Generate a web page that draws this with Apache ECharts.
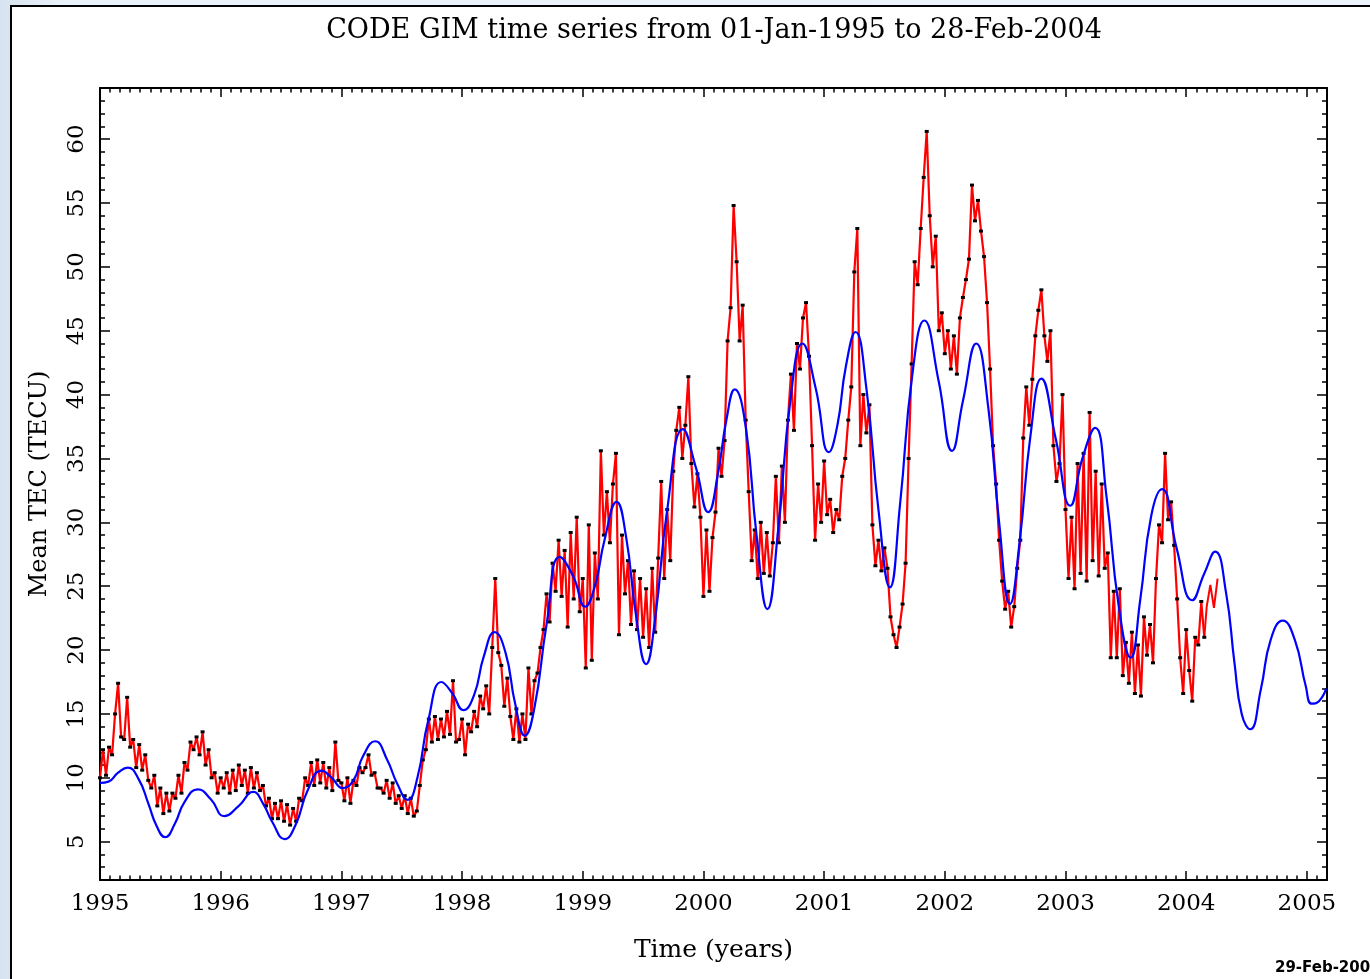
<!DOCTYPE html>
<html><head><meta charset="utf-8">
<script src="https://cdn.jsdelivr.net/npm/echarts@6/dist/echarts.min.js"></script>
<style>
html,body{margin:0;padding:0;width:1370px;height:979px;overflow:hidden;background:linear-gradient(to right,#d6e3f0,#e9f1f9 60px,#edf3fa);}
#frame{position:absolute;left:10px;top:5px;width:1400px;height:1000px;background:#fff;border-left:2.5px solid #000;border-top:2.5px solid #000;}
#chart{position:absolute;left:0;top:0;width:1370px;height:979px;}
</style></head><body><div id="frame"></div><div id="chart"></div>
<script>
// ---- data (decimal years / TECU) ----
const title = 'CODE GIM time series from 01-Jan-1995 to 28-Feb-2004';
const stamp = '29-Feb-2004';
const xTickLabels = [1995,1996,1997,1998,1999,2000,2001,2002,2003,2004,2005];
const yTickLabels = [5,10,15,20,25,30,35,40,45,50,55,60];
// observed mean TEC, 40 samples per year (start of year + k/40)
const samplesPerYear = 40;
const r1995 = [10.0,12.2,10.2,12.4,11.8,15.0,17.4,13.2,13.0,16.3,12.4,13.0,10.8,12.6,10.6,11.8,9.8,9.2,10.2,7.8,9.2,7.2,8.8,7.4,8.8,8.4,10.2,8.8,11.2,10.6,12.8,12.2,13.2,11.8,13.6,11.0,12.2,10.0,10.4,8.8];
const r1996 = [10.0,9.2,10.4,8.8,10.6,9.0,11.0,9.4,10.6,8.8,10.8,9.2,10.4,9.0,9.4,7.8,8.4,6.8,8.0,6.8,8.2,6.6,7.9,6.3,7.6,6.6,8.4,8.2,10.0,9.4,11.2,9.4,11.4,9.6,11.2,9.2,10.8,9.0,12.8,9.8];
const r1997 = [9.6,8.2,10.0,8.0,9.8,9.4,10.8,10.4,10.8,11.8,10.2,10.4,9.2,9.2,8.8,9.8,8.4,9.6,8.0,8.6,7.6,8.6,7.2,8.4,7.0,7.4,9.4,11.4,12.2,14.6,12.8,14.8,13.0,14.6,13.2,15.2,13.4,17.6,12.8,13.0];
const r1998 = [14.6,11.8,14.2,13.6,15.2,14.0,16.4,15.4,17.2,15.0,20.2,25.6,19.8,18.8,15.6,17.8,14.8,13.0,15.4,12.8,15.0,13.0,18.6,15.0,17.6,18.2,20.2,21.6,24.4,22.2,26.8,24.6,28.6,24.2,27.8,21.8,29.2,24.0,30.4,23.0];
const r1999 = [25.6,18.6,29.8,19.2,27.6,24.0,35.6,29.0,32.4,28.4,33.0,35.4,21.2,29.0,24.4,27.0,22.0,26.2,21.6,25.6,21.0,24.8,20.2,26.4,21.4,27.2,33.2,25.6,31.0,27.0,34.0,37.2,39.0,35.0,37.6,41.4,34.6,31.2,33.8,30.4];
const r2000 = [24.2,29.4,24.6,28.8,30.8,35.8,33.6,36.4,44.2,46.8,54.8,50.4,44.2,47.0,38.0,32.4,27.0,29.4,25.6,30.0,26.0,29.2,25.8,28.4,33.6,28.4,34.4,30.0,38.0,41.6,37.2,44.0,42.0,46.0,47.2,43.0,36.0,28.6,33.0,30.0];
const r2001 = [34.8,30.6,31.8,29.2,31.0,30.2,33.6,35.0,38.0,40.6,49.6,53.0,36.0,40.0,37.0,39.2,29.8,26.6,28.6,26.2,28.0,26.4,22.6,21.2,20.2,21.8,23.6,26.8,35.0,42.4,50.4,48.6,53.0,57.0,60.6,54.0,50.0,52.4,45.0,46.4];
const r2002 = [43.2,45.0,42.0,44.6,41.6,46.0,47.6,49.0,50.6,56.4,53.6,55.2,52.8,50.8,47.2,42.0,36.0,33.0,28.6,25.4,23.2,24.6,21.8,23.4,26.4,28.6,36.6,40.6,37.6,41.2,44.6,46.6,48.2,44.6,42.6,45.0,36.0,33.2,34.6,40.0];
const r2003 = [31.0,25.6,30.4,24.8,34.6,26.0,35.4,25.4,38.6,27.0,34.0,25.8,33.0,26.4,27.6,19.4,24.6,19.4,24.8,18.0,20.6,17.4,21.4,16.6,20.4,16.4,22.6,19.6,22.0,19.0,25.6,29.8,28.4,35.4,30.2,31.6,28.2,24.0,19.4,16.6];
const r2004 = [21.6,18.4,16.0,21.0,20.4,23.8,21.0];
// last rapid values (no markers)
const tailYears  = [2004.15,2004.17,2004.20,2004.23,2004.26];
const tailValues = [21.0,23.4,25.1,23.3,25.6];
// model / prediction curve
const blueYears = [1995.00,1995.07,1995.15,1995.23,1995.32,1995.40,1995.47,1995.54,1995.62,1995.70,1995.81,1995.92,1996.03,1996.15,1996.27,1996.35,1996.43,1996.53,1996.62,1996.72,1996.835,1996.92,1997.01,1997.10,1997.18,1997.28,1997.38,1997.46,1997.55,1997.63,1997.72,1997.83,1997.92,1998.01,1998.10,1998.18,1998.27,1998.36,1998.44,1998.52,1998.60,1998.70,1998.81,1998.92,1999.02,1999.10,1999.18,1999.28,1999.36,1999.44,1999.525,1999.60,1999.70,1999.83,1999.94,2000.04,2000.12,2000.19,2000.26,2000.35,2000.44,2000.53,2000.62,2000.72,2000.82,2000.93,2001.04,2001.11,2001.18,2001.26,2001.35,2001.45,2001.545,2001.63,2001.73,2001.83,2001.95,2002.06,2002.15,2002.26,2002.36,2002.45,2002.54,2002.62,2002.71,2002.80,2002.92,2003.04,2003.14,2003.245,2003.34,2003.44,2003.54,2003.62,2003.71,2003.80,2003.92,2004.05,2004.15,2004.24,2004.33,2004.40,2004.46,2004.53,2004.62,2004.70,2004.80,2004.90,2004.99,2005.04,2005.10,2005.16];
const blueValues = [9.6,9.7,10.4,10.8,9.9,8.0,6.2,5.35,6.4,8.1,9.1,8.3,7.0,7.8,8.9,8.0,6.5,5.2,6.3,9.0,10.56,10.0,9.2,9.8,11.7,12.86,11.4,9.6,8.28,10.0,14.5,17.5,16.6,15.3,16.5,19.5,21.4,19.8,15.8,13.3,15.5,22.0,27.3,25.8,23.4,25.0,28.6,31.6,28.8,22.8,18.9,22.5,31.0,37.3,34.2,30.8,33.8,38.0,40.4,37.5,29.0,23.2,29.5,39.5,44.0,40.5,35.5,37.6,42.2,44.9,40.5,31.0,24.9,31.5,41.5,45.8,41.0,35.6,39.5,44.0,39.0,30.0,23.6,28.5,36.8,41.25,36.5,31.3,35.0,37.4,32.0,23.5,19.4,24.0,30.5,32.6,28.0,23.9,26.0,27.7,24.5,19.0,15.0,13.8,17.0,20.8,22.3,20.8,17.2,15.8,16.0,17.0];

// ---- build series data ----
const yearly = [[1995,r1995],[1996,r1996],[1997,r1997],[1998,r1998],[1999,r1999],[2000,r2000],[2001,r2001],[2002,r2002],[2003,r2003],[2004,r2004]];
const obsData = [];
yearly.forEach(([yr, arr]) => arr.forEach((v, k) => obsData.push([yr + k / samplesPerYear, v])));
const tailData = tailYears.map((x, i) => [x, tailValues[i]]);
const blueData = blueYears.map((x, i) => [x, blueValues[i]]);

const X_MIN = 1995, X_MAX = 2005 + 2 / 12, Y_MIN = 2, Y_MAX = 64;
const FONT = "'DejaVu Serif', serif";
const black = '#000';

function xAx(pos, major, withLabel) {
  const a = {
    type: 'value', position: pos, min: X_MIN, max: X_MAX,
    interval: major ? 1 : 1 / 12,
    axisLine: { show: major, onZero: false, lineStyle: { color: black, width: 2 } },
    axisTick: { inside: true, length: major ? 9 : 4.5, lineStyle: { color: black, width: 1.5 } },
    axisLabel: { show: false },
    splitLine: { show: false }
  };
  if (withLabel) {
    a.axisLabel = { show: true, customValues: xTickLabels, formatter: v => String(Math.round(v)),
      margin: 13, color: black, fontFamily: FONT, fontSize: 23 };
    a.name = 'Time (years)'; a.nameLocation = 'middle'; a.nameGap = 58;
    a.nameTextStyle = { color: black, fontFamily: FONT, fontSize: 25 };
  }
  return a;
}
function yAx(pos, major, withLabel) {
  const a = {
    type: 'value', position: pos, min: Y_MIN, max: Y_MAX,
    axisLine: { show: major, onZero: false, lineStyle: { color: black, width: 2 } },
    axisTick: major ? { inside: true, customValues: yTickLabels, length: 10, lineStyle: { color: black, width: 1.5 } }
                    : { inside: true, length: 5, lineStyle: { color: black, width: 1.5 } },
    axisLabel: { show: false },
    splitLine: { show: false }
  };
  if (!major) a.interval = 1;
  if (withLabel) {
    a.axisLabel = { show: true, customValues: yTickLabels, formatter: v => String(Math.round(v)),
      rotate: 90, margin: 11, color: black, fontFamily: FONT, fontSize: 23 };
    a.name = 'Mean TEC (TECU)'; a.nameLocation = 'middle'; a.nameGap = 48; a.nameRotate = 90;
    a.nameTextStyle = { color: black, fontFamily: FONT, fontSize: 24 };
  }
  return a;
}

const chart = echarts.init(document.getElementById('chart'), null, { renderer: 'canvas' });
chart.setOption({
  animation: false,
  backgroundColor: 'transparent',
  grid: { left: 100, top: 88, right: 43, bottom: 99, containLabel: false },
  xAxis: [xAx('bottom', true, true), xAx('bottom', false, false), xAx('top', true, false), xAx('top', false, false)],
  yAxis: [yAx('left', true, true), yAx('left', false, false), yAx('right', true, false), yAx('right', false, false)],
  graphic: [
    { type: 'text', x: 714, y: 31, style: { text: title, textAlign: 'center', textVerticalAlign: 'middle', fill: black, font: "27px 'DejaVu Serif', serif" } },
    { type: 'text', x: 1275, y: 968, style: { text: stamp, textAlign: 'left', textVerticalAlign: 'middle', fill: black, font: "bold 15px 'DejaVu Sans', sans-serif" } }
  ],
  series: [
    { type: 'line', name: 'observed', xAxisIndex: 0, yAxisIndex: 0, data: obsData, silent: true,
      symbol: 'rect', symbolSize: [4, 3], showSymbol: true, itemStyle: { color: black },
      lineStyle: { color: '#ff0000', width: 2.2 }, z: 3 },
    { type: 'line', name: 'rapid', xAxisIndex: 0, yAxisIndex: 0, data: tailData, silent: true,
      showSymbol: false, lineStyle: { color: '#ff0000', width: 2 }, z: 3 },
    { type: 'line', name: 'model', xAxisIndex: 0, yAxisIndex: 0, data: blueData, silent: true,
      smooth: 0.5, showSymbol: false, lineStyle: { color: '#0000ff', width: 2.2 }, z: 4 }
  ]
});
</script></body></html>
